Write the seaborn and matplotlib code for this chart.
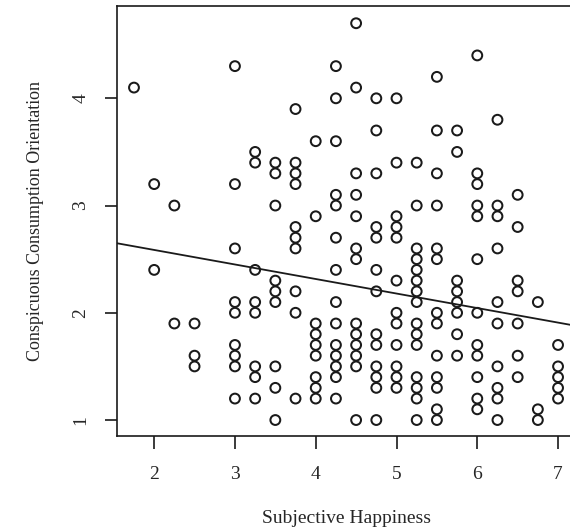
import matplotlib
matplotlib.use("Agg")
import matplotlib.pyplot as plt
import seaborn as sns
import numpy as np
import pandas as pd

# valores, agrupados por columna de felicidad
happiness = (
    [1.75] * 1 + [2.0] * 2 + [2.25] * 2 + [2.5] * 3 +
    [3.0] * 9 + [3.25] * 8 + [3.5] * 9 + [3.75] * 10 +
    [4.0] * 9 + [4.25] * 14 + [4.5] * 13 + [4.75] * 13 +
    [5.0] * 12 + [5.25] * 15 + [5.5] * 13 + [5.75] * 8 +
    [6.0] * 12 + [6.25] * 10 + [6.5] * 7 + [6.75] * 3 + [7.0] * 5
)
consumption = [
    4.1,
    3.2, 2.4,
    3.0, 1.9,
    1.9, 1.6, 1.5,
    4.3, 3.2, 2.6, 2.1, 2.0, 1.7, 1.6, 1.5, 1.2,
    3.5, 3.4, 2.4, 2.1, 2.0, 1.5, 1.4, 1.2,
    3.4, 3.3, 3.0, 2.3, 2.2, 2.1, 1.5, 1.3, 1.0,
    3.9, 3.4, 3.3, 3.2, 2.8, 2.7, 2.6, 2.2, 2.0, 1.2,
    3.6, 2.9, 1.9, 1.8, 1.7, 1.6, 1.4, 1.3, 1.2,
    4.3, 4.0, 3.6, 3.1, 3.0, 2.7, 2.4, 2.1, 1.9, 1.7, 1.6, 1.5, 1.4, 1.2,
    4.7, 4.1, 3.3, 3.1, 2.9, 2.6, 2.5, 1.9, 1.8, 1.7, 1.6, 1.5, 1.0,
    4.0, 3.7, 3.3, 2.8, 2.7, 2.4, 2.2, 1.8, 1.7, 1.5, 1.4, 1.3, 1.0,
    4.0, 3.4, 2.9, 2.8, 2.7, 2.3, 2.0, 1.9, 1.7, 1.5, 1.4, 1.3,
    3.4, 3.0, 2.6, 2.5, 2.4, 2.3, 2.2, 2.1, 1.9, 1.8, 1.7, 1.4, 1.3, 1.2, 1.0,
    4.2, 3.7, 3.3, 3.0, 2.6, 2.5, 2.0, 1.9, 1.6, 1.4, 1.3, 1.1, 1.0,
    3.7, 3.5, 2.3, 2.2, 2.1, 2.0, 1.8, 1.6,
    4.4, 3.3, 3.2, 3.0, 2.9, 2.5, 2.0, 1.7, 1.6, 1.4, 1.2, 1.1,
    3.8, 3.0, 2.9, 2.6, 2.1, 1.9, 1.5, 1.3, 1.2, 1.0,
    3.1, 2.8, 2.3, 2.2, 1.9, 1.6, 1.4,
    2.1, 1.1, 1.0,
    1.7, 1.5, 1.4, 1.3, 1.2,
]
# recta de regresion tal como aparece en la figura (hay puntos superpuestos
# que no se ven, asi que se toma la recta leida y no un ajuste propio)
fit_intercept = 2.857
fit_slope = -0.1355

x_ticks = [2, 3, 4, 5, 6, 7]
y_ticks = [1, 2, 3, 4]

df = pd.DataFrame({'happiness': happiness, 'consumption': consumption})

sns.set_style('ticks')
plt.rcParams['font.family'] = ['Liberation Serif', 'DejaVu Serif']

fig = plt.figure(figsize=(5.7, 5.29), dpi=100)
ax = fig.add_axes([0.2053, 0.176, 0.8035, 0.8125])

sns.scatterplot(data=df, x='happiness', y='consumption', ax=ax,
                marker='o', s=50, facecolors='none', edgecolor='#1a1a1a',
                linewidth=1.45)
ax.axline((0, fit_intercept), slope=fit_slope, color='#1a1a1a', lw=1.3)

ax.set_xlim(1.54, 7.21)
ax.set_ylim(0.852, 4.86)
ax.set_xticks(x_ticks)
ax.set_yticks(y_ticks)
ax.set_xticklabels([str(t) for t in x_ticks], fontsize=14)
ax.set_yticklabels([str(t) for t in y_ticks], fontsize=14, rotation=90, va='center')
ax.tick_params(direction='out', length=9, width=1.2, color='#1a1a1a', pad=11)
ax.tick_params(axis='x', pad=13)

for s in ax.spines.values():
    s.set_visible(True)
    s.set_linewidth(1.2)
    s.set_color('#1a1a1a')

ax.set_xlabel('Subjective Happiness', fontsize=14, labelpad=19)
ax.set_ylabel('Conspicuous Consumption Orientation', fontsize=13, labelpad=20)

fig.savefig('out.png', dpi=100)
